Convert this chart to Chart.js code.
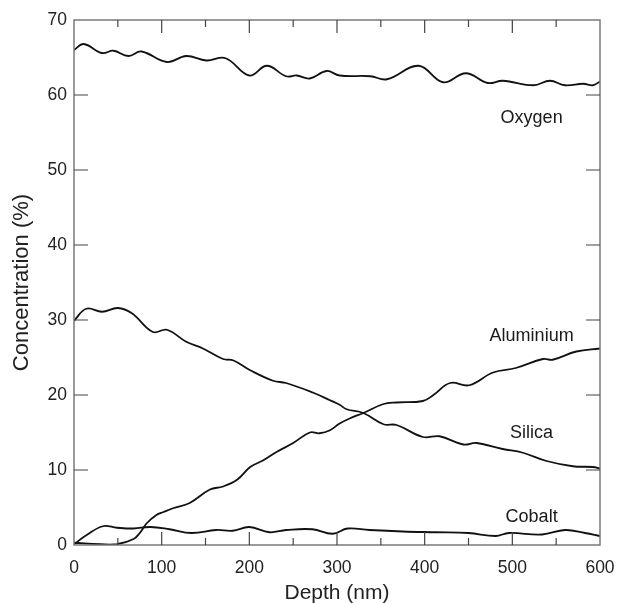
<!DOCTYPE html>
<html lang="en">
<head>
    <meta charset="UTF-8">
    <title>Concentration depth profile</title>
    <script src="https://cdn.jsdelivr.net/npm/chart.js"></script>
    <style>
        body {
            margin: 0;
            background: #fff;
            font-family: Arial, "Liberation Sans", sans-serif;
        }
        #wrap {
            width: 620px;
            height: 603px;
        }
    </style>
</head>
<body>
<div id="wrap">
    <canvas id="profile" width="620" height="603"></canvas>
</div>
<script>
    // Depth (nm) and concentration (%), one pair of arrays per element
    const oxygenDepth = [0, 11, 32, 45, 62, 77, 106, 128, 151, 173, 200, 220, 242, 254, 269, 288, 303, 338, 357, 393, 421, 447, 472, 489, 524, 543, 560, 581, 592, 600];
    const oxygenConc = [66.0, 66.8, 65.6, 65.9, 65.2, 65.8, 64.4, 65.2, 64.6, 64.9, 62.6, 63.9, 62.5, 62.6, 62.2, 63.2, 62.6, 62.5, 62.1, 63.9, 61.7, 62.9, 61.6, 61.9, 61.3, 61.9, 61.3, 61.5, 61.3, 61.8];

    const silicaDepth = [0, 14, 32, 50, 66, 90, 106, 128, 147, 170, 182, 201, 227, 242, 273, 292, 303, 311, 330, 353, 368, 398, 417, 444, 459, 489, 512, 539, 569, 592, 600];
    const silicaConc = [29.9, 31.5, 31.1, 31.6, 30.9, 28.4, 28.7, 27.1, 26.2, 24.8, 24.6, 23.3, 21.9, 21.6, 20.3, 19.3, 18.7, 18.1, 17.6, 16.1, 16.0, 14.4, 14.5, 13.4, 13.6, 12.8, 12.3, 11.2, 10.5, 10.4, 10.2];

    const aluminiumDepth = [0, 30, 49, 68, 75, 83, 94, 102, 113, 132, 155, 170, 186, 201, 216, 231, 250, 269, 280, 292, 303, 315, 330, 353, 368, 398, 410, 429, 451, 478, 504, 535, 546, 573, 600];
    const aluminiumConc = [0.3, 0.1, 0.1, 0.8, 1.6, 2.9, 4.0, 4.4, 4.9, 5.6, 7.4, 7.8, 8.7, 10.4, 11.3, 12.4, 13.6, 15.0, 14.9, 15.3, 16.2, 16.9, 17.6, 18.8, 19.0, 19.2, 20.0, 21.6, 21.3, 23.0, 23.6, 24.8, 24.7, 25.8, 26.2];

    const cobaltDepth = [0, 14, 33, 49, 68, 87, 109, 134, 162, 181, 200, 223, 242, 272, 295, 312, 337, 375, 413, 450, 481, 496, 534, 560, 583, 600];
    const cobaltConc = [0.1, 1.3, 2.5, 2.3, 2.2, 2.4, 2.1, 1.6, 2.0, 1.9, 2.4, 1.7, 2.0, 2.1, 1.5, 2.2, 2.0, 1.8, 1.7, 1.6, 1.2, 1.6, 1.4, 2.0, 1.6, 1.2];

    // In-plot curve labels (anchored in data units)
    const labelNames = ['Oxygen', 'Aluminium', 'Silica', 'Cobalt'];
    const labelDepth = [522, 522, 522, 522];
    const labelConc = [56.9, 27.9, 14.9, 3.7];

    const xTicks = [0, 100, 200, 300, 400, 500, 600];
    const yTicks = [0, 10, 20, 30, 40, 50, 60, 70];

    const FONT = 'Arial, "Liberation Sans", sans-serif';

    function toPoints(xs, ys) {
        return xs.map((d, i) => ({ x: d, y: ys[i] }));
    }

    function curve(name, xs, ys) {
        return {
            label: name,
            data: toPoints(xs, ys),
            borderColor: '#111',
            borderWidth: 1.8,
            pointRadius: 0,
            tension: 0.4,
            fill: false
        };
    }

    // Box frame, inward tick marks and curve labels
    const framePlugin = {
        id: 'frame',
        afterDraw(chart) {
            const { ctx, chartArea: a, scales: { x, y } } = chart;
            ctx.save();
            ctx.strokeStyle = '#7a7a7a';
            ctx.lineWidth = 1.5;
            ctx.strokeRect(a.left, a.top, a.right - a.left, a.bottom - a.top);

            ctx.strokeStyle = '#444';
            ctx.lineWidth = 1.2;
            ctx.beginPath();
            for (let d = 50; d < 600; d += 50) {
                const px = x.getPixelForValue(d);
                const len = d % 100 === 0 ? 13 : 7;
                ctx.moveTo(px, a.bottom); ctx.lineTo(px, a.bottom - len);
                ctx.moveTo(px, a.top); ctx.lineTo(px, a.top + len);
            }
            for (let c = 10; c < 70; c += 10) {
                const py = y.getPixelForValue(c);
                ctx.moveTo(a.left, py); ctx.lineTo(a.left + 14, py);
                ctx.moveTo(a.right, py); ctx.lineTo(a.right - 14, py);
            }
            ctx.stroke();

            ctx.fillStyle = '#1a1a1a';
            ctx.font = '18px ' + FONT;
            ctx.textAlign = 'center';
            ctx.textBaseline = 'middle';
            labelNames.forEach((t, i) => {
                ctx.fillText(t, x.getPixelForValue(labelDepth[i]), y.getPixelForValue(labelConc[i]));
            });
            ctx.restore();
        }
    };

    new Chart(document.getElementById('profile'), {
        type: 'line',
        data: {
            datasets: [
                curve('Oxygen', oxygenDepth, oxygenConc),
                curve('Silica', silicaDepth, silicaConc),
                curve('Aluminium', aluminiumDepth, aluminiumConc),
                curve('Cobalt', cobaltDepth, cobaltConc)
            ]
        },
        options: {
            responsive: false,
            animation: false,
            layout: { padding: { top: 20, right: 20, left: 0, bottom: 0 } },
            plugins: {
                legend: { display: false },
                tooltip: { enabled: false }
            },
            scales: {
                x: {
                    type: 'linear',
                    min: 0,
                    max: 600,
                    afterFit: s => { s.height = 58; s.paddingLeft = 0; s.paddingRight = 0; },
                    afterBuildTicks: s => { s.ticks = xTicks.map(v => ({ value: v })); },
                    grid: { display: false, drawTicks: false },
                    border: { display: false },
                    ticks: { color: '#222', font: { size: 17.5, family: FONT }, padding: 13, maxRotation: 0 },
                    title: { display: true, text: 'Depth (nm)', color: '#222', font: { size: 21, family: FONT, lineHeight: 0.95 }, padding: 0 }
                },
                y: {
                    min: 0,
                    max: 70,
                    afterFit: s => { s.width = 74; },
                    afterBuildTicks: s => { s.ticks = yTicks.map(v => ({ value: v })); },
                    grid: { display: false, drawTicks: false },
                    border: { display: false },
                    ticks: { color: '#222', font: { size: 17.5, family: FONT }, padding: 7 },
                    title: { display: true, text: 'Concentration (%)', color: '#222', font: { size: 22, family: FONT }, padding: { top: 9, bottom: 0 } }
                }
            }
        },
        plugins: [framePlugin]
    });
</script>
</body>
</html>
